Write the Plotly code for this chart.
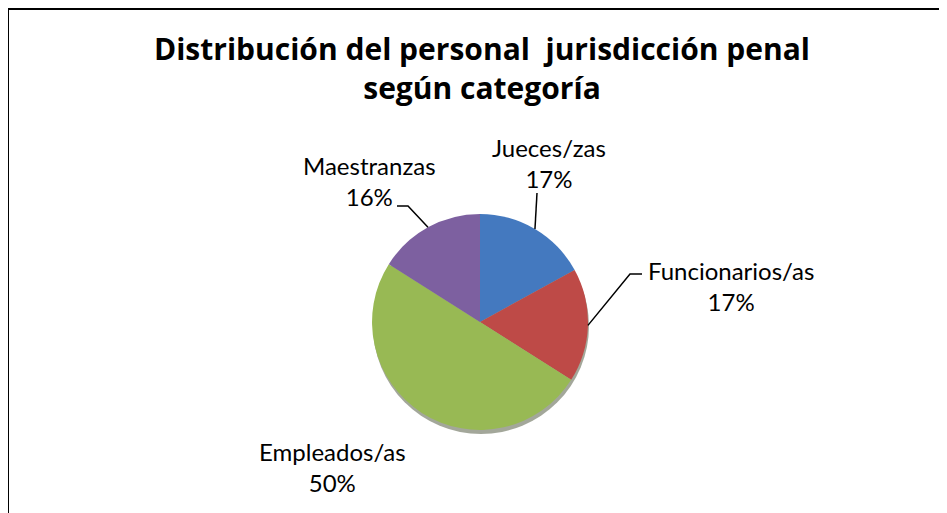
import math
import plotly.graph_objects as go

# ---- data ----
categories = ["Jueces/zas", "Funcionarios/as", "Empleados/as", "Maestranzas"]
values = [17, 17, 50, 16]
pct_labels = ["17%", "17%", "50%", "16%"]
colors = ["#4479BF", "#BE4A47", "#98B954", "#7D60A0"]
title_lines = ["Distribución del personal \u00a0jurisdicción penal", "según categoría"]

# ---- layout / style ----
W, H = 947, 513
OFF = 8  # page body margin compensation
CX, CY, R = 480, 322, 108
LABEL_FONT = dict(family="Lato, Carlito, Calibri, sans-serif", size=24, color="#000000")
TITLE_FONT = dict(family="Open Sans, sans-serif", size=30, color="#000000")
# label text centers (px) and leader bend points (px) per slice; None = no leader
label_pos = [(549, 163), (731, 286), (332, 467), (369, 181)]
leader_bend = [(537, 193), (630, 274), None, (408, 206)]
leader_end = [None, (642, 274), None, (397, 206)]
title_center_y = 68


def px(x):
    return (x - OFF) / W


def py(y):
    return 1 - (y - OFF) / H


fig = go.Figure()

# subtle shadow under the pie
fig.add_shape(type="circle", xref="paper", yref="paper",
              x0=px(CX - R + 1), x1=px(CX + R + 1), y0=py(CY + R + 4), y1=py(CY - R + 4),
              fillcolor="rgba(50,60,30,0.45)", line=dict(width=0), layer="below")

fig.add_trace(go.Pie(
    labels=categories, values=values, sort=False, direction="clockwise", rotation=0,
    marker=dict(colors=colors, line=dict(width=0)),
    textinfo="none", hoverinfo="label+percent", showlegend=False,
    domain=dict(x=[px(CX - R), px(CX + R)], y=[py(CY + R), py(CY - R)]),
))

total = sum(values)
cum = 0
for i, (cat, v) in enumerate(zip(categories, values)):
    mid = (cum + v / 2) / total * 2 * math.pi
    cum += v
    ex, ey = CX + R * math.sin(mid), CY - R * math.cos(mid)
    lx, ly = label_pos[i]
    fig.add_annotation(x=px(lx), y=py(ly), xref="paper", yref="paper",
                       text=f"{cat}<br>{pct_labels[i]}", showarrow=False,
                       font=LABEL_FONT, align="center", xanchor="center", yanchor="middle")
    if leader_bend[i] is not None:
        bx, by = leader_bend[i]
        pts = [(ex, ey), (bx, by)]
        if leader_end[i] is not None:
            pts.append(leader_end[i])
        path = "M " + " L ".join(f"{px(a)},{py(b)}" for a, b in pts)
        fig.add_shape(type="path", xref="paper", yref="paper", path=path,
                      line=dict(color="black", width=1.5))

# title (two lines, one text block)
fig.add_annotation(x=px(482), y=py(title_center_y), xref="paper", yref="paper",
                   text="<b>" + "<br>".join(title_lines) + "</b>", showarrow=False,
                   align="center", xanchor="center", yanchor="middle", font=TITLE_FONT)

# chart border (clipped at right/bottom like the reference)
fig.add_shape(type="rect", xref="paper", yref="paper",
              x0=px(8), y0=py(H + 30), x1=px(W + 30), y1=py(9),
              line=dict(color="black", width=2), fillcolor="rgba(0,0,0,0)")

fig.update_layout(width=W, height=H, margin=dict(l=0, r=0, t=0, b=0),
                  paper_bgcolor="white", plot_bgcolor="white")

fig.write_html("out.html")
